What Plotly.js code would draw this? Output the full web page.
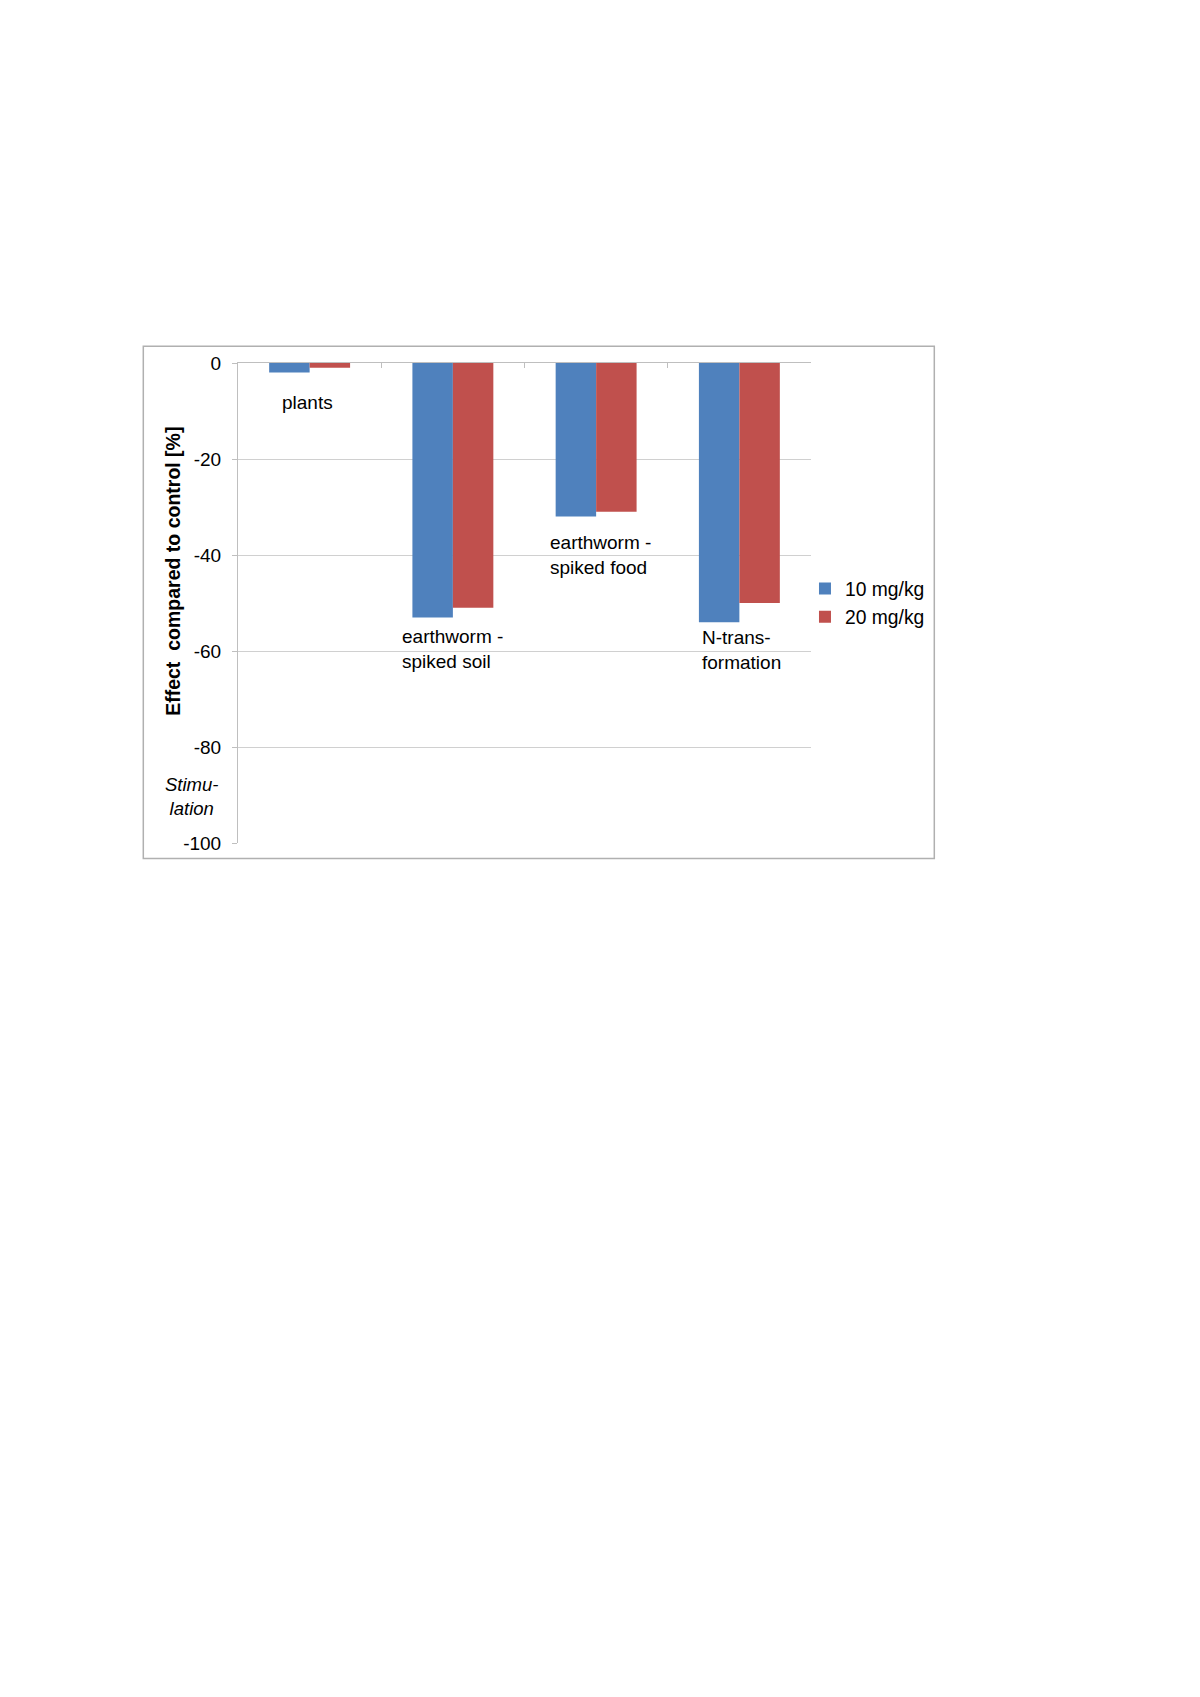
<!DOCTYPE html>
<html>
<head>
<meta charset="utf-8">
<script src="https://cdn.plot.ly/plotly-3.0.1.min.js"></script>
<style>
  html, body { margin: 0; padding: 0; background: #ffffff; }
  #chart { width: 1200px; height: 1697px; }
</style>
</head>
<body>
<div id="chart"></div>
<script>
// ---- data ----
const categories = ["plants", "earthworm - spiked soil", "earthworm - spiked food", "N-transformation"];
const labelTexts = ["plants", "earthworm -<br>spiked soil", "earthworm -<br>spiked food", "N-trans-<br>formation"];
const series10 = [-2, -53, -32, -54];
const series20 = [-1, -51, -31, -50];
const seriesNames = ["10 mg/kg", "20 mg/kg"];
const yTicks = [0, -20, -40, -60, -80, -100];

const FONT = "Liberation Sans, Arial, Helvetica, sans-serif";

const traces = [
  { type: "bar", x: categories, y: series10, name: seriesNames[0],
    marker: { color: "#4f81bd", line: { width: 0 } } },
  { type: "bar", x: categories, y: series20, name: seriesNames[1],
    marker: { color: "#c0504d", line: { width: 0 } } }
];

// label placement (x in category index units, y in data units)
const labelPos = [
  { x: -0.015, y: -8.2, xanchor: "center" },
  { x: 0.628, y: -59.6, xanchor: "left" },
  { x: 1.665, y: -39.9, xanchor: "left" },
  { x: 2.727, y: -59.8, xanchor: "left" }
];

const annotations = labelTexts.map((t, i) => ({
  text: t, xref: "x", yref: "y", x: labelPos[i].x, y: labelPos[i].y,
  xanchor: labelPos[i].xanchor, yanchor: "middle", align: "left",
  showarrow: false, font: { family: FONT, size: 19, color: "#000000" }
}));

annotations.push({
  text: "<b>Effect\u00a0\u00a0compared to control [%]</b>",
  xref: "paper", yref: "paper", x: -0.1134, y: 0.565,
  xanchor: "center", yanchor: "middle", textangle: -90, showarrow: false,
  font: { family: FONT, size: 19.5, color: "#000000" }
});
annotations.push({
  text: "<i>Stimu-<br>lation</i>",
  xref: "paper", yref: "paper", x: (191 - 238) / 573, y: (842.7 - 796) / 480,
  xanchor: "center", yanchor: "middle", align: "center", showarrow: false,
  font: { family: FONT, size: 18.5, color: "#000000" }
});

const layout = {
  width: 1200, height: 1697,
  paper_bgcolor: "#ffffff", plot_bgcolor: "#ffffff",
  margin: { l: 238, r: 389, t: 362.7, b: 854.3, pad: 0 },
  font: { family: FONT, size: 18, color: "#000000" },
  barmode: "group", bargap: 0.435, bargroupgap: 0,
  showlegend: true,
  legend: {
    x: 0.9895, xanchor: "left", y: 0.5, yanchor: "middle",
    font: { family: FONT, size: 19.3, color: "#000000" },
    bgcolor: "rgba(0,0,0,0)", borderwidth: 0, itemwidth: 30,
    tracegroupgap: 0
  },
  xaxis: {
    type: "category", side: "top", showticklabels: false,
    showline: true, linecolor: "#bfbfbf", linewidth: 1,
    ticks: "inside", tickson: "boundaries", ticklen: 5, tickcolor: "#bfbfbf",
    showgrid: false, zeroline: false, fixedrange: true
  },
  yaxis: {
    range: [-100, 0], tickvals: yTicks, ticktext: yTicks.map(String),
    showline: true, linecolor: "#bfbfbf", linewidth: 1,
    ticks: "outside", ticklen: 5, tickcolor: "#bfbfbf",
    ticklabelstandoff: 7,
    showgrid: true, gridcolor: "#d0d0d0", gridwidth: 1,
    zeroline: false, fixedrange: true,
    tickfont: { family: FONT, size: 19, color: "#000000" }
  },
  annotations: annotations,
  shapes: [{
    type: "rect", xref: "paper", yref: "paper",
    x0: (143.3 - 238) / 573, x1: (934.3 - 238) / 573,
    y0: (842.7 - 858.3) / 480, y1: (842.7 - 346) / 480,
    line: { color: "#b0b0b0", width: 1.5 }, fillcolor: "rgba(0,0,0,0)", layer: "below"
  }]
};

Plotly.newPlot("chart", traces, layout, { displayModeBar: false, staticPlot: true });
</script>
</body>
</html>
